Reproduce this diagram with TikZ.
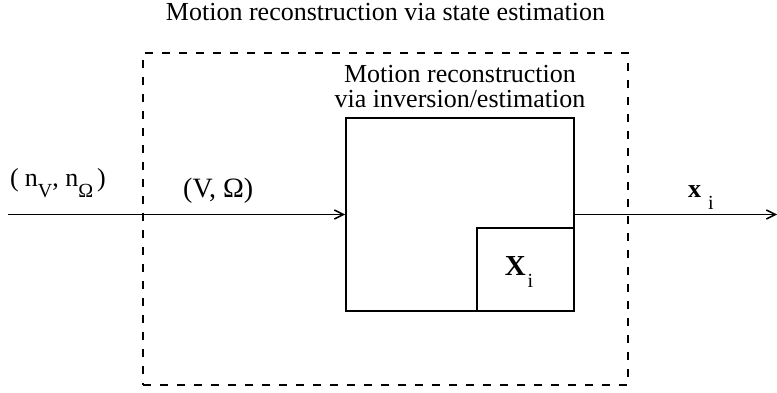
\documentclass[tikz,border=0pt]{standalone}
\usepackage{fontspec}
\setmainfont{Liberation Serif}
\usetikzlibrary{positioning,arrows.meta}

\newcommand{\lowsub}[1]{\raisebox{-12pt}{\fontsize{20}{20}\selectfont #1}}

\tikzset{
  box/.style={draw, line width=2pt, inner sep=0pt},
  dashbox/.style={draw, line width=2.2pt, dash pattern=on 8pt off 9pt, inner sep=0pt},
  signal/.style={line width=1.5pt, -{Straight Barb[length=9pt,width=9pt]}},
  lbl/.style={inner sep=0pt, font=\fontsize{26}{25}\selectfont}
}

\begin{document}
\begin{tikzpicture}[x=1pt,y=-1pt]
\useasboundingbox (0,0) rectangle (777,393);

% Outer observer (dashed)
\node[dashbox, minimum width=485pt, minimum height=332pt] (observer) at (385.5,219) {};
\node[lbl, above=31pt of observer.north] (title) {Motion reconstruction via state estimation};

% Reconstruction block
\node[box, minimum width=228pt, minimum height=193pt] (recon) at (460,214.5) {};
\node[lbl, align=center, above=9pt of recon.north] (recontext) {Motion reconstruction\\via inversion/estimation};
\node[box, anchor=south east, minimum width=97pt, minimum height=83pt] (state) at (recon.south east) {};
\node[lbl, font=\fontsize{29}{29}\selectfont] (statelbl) at (519,272) {\textbf{X}\kern2pt\lowsub{i}};

% Signals
\coordinate (in) at (8,214.5);
\coordinate (out) at (777,214.5);
\draw[signal] (in) -- (recon.west);
\draw[signal] (recon.east) -- (out);

% Labels
\node[lbl, font=\fontsize{26}{26}\selectfont, anchor=base west] (noise) at (10,186) {(\kern6pt n\lowsub{V}, n\lowsub{Ω}\kern4pt)};
\node[lbl, font=\fontsize{28}{28}\selectfont, anchor=base west] (vel) at (183,197) {(V, Ω)};
\node[lbl, anchor=base west] (xout) at (688,198) {\textbf{x}\kern7pt\lowsub{i}};
\end{tikzpicture}
\end{document}
